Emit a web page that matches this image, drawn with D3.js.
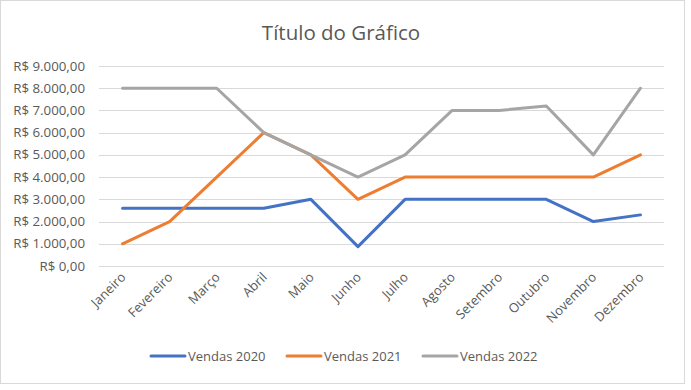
<!DOCTYPE html>
<html>
<head>
<meta charset="utf-8">
<script src="https://cdn.jsdelivr.net/npm/d3@7"></script>
<style>
  html, body { margin: 0; padding: 0; background: #fff; }
  svg text { font-family: "Open Sans", "Noto Sans", sans-serif; fill: #595959; }
</style>
</head>
<body>
<div id="chart"></div>
<script>
// data
const meses = ["Janeiro","Fevereiro","Março","Abril","Maio","Junho","Julho","Agosto","Setembro","Outubro","Novembro","Dezembro"];
const vendas2020 = [2600,2600,2600,2600,3000,870,3000,3000,3000,3000,2000,2300];
const vendas2021 = [1000,2000,4000,6000,5000,3000,4000,4000,4000,4000,4000,5000];
const vendas2022 = [8000,8000,8000,6000,5000,4000,5000,7000,7000,7200,5000,8000];
const yTicks = [0,1000,2000,3000,4000,5000,6000,7000,8000,9000];

const series = [
  { name: "Vendas 2020", values: vendas2020, color: "#4472C4" },
  { name: "Vendas 2021", values: vendas2021, color: "#ED7D31" },
  { name: "Vendas 2022", values: vendas2022, color: "#A5A5A5" }
];

const width = 691, height = 390;
const svg = d3.select("#chart").append("svg").attr("width", width).attr("height", height);

// chart frame
svg.append("rect").attr("x", 0.5).attr("y", 0.5).attr("width", 684).attr("height", 383)
  .attr("fill", "#fff").attr("stroke", "#D9D9D9");

svg.append("text").attr("x", 341).attr("y", 40).attr("text-anchor", "middle")
  .attr("font-size", 20.5).text("Título do Gráfico");

const x = d3.scaleBand().domain(meses).range([99, 664]);
const y = d3.scaleLinear().domain([0, 9000]).range([266, 66]);

const fmt = v => "R$ " + d3.format(",.2f")(v).replace(/,/g, "#").replace(".", ",").replace(/#/g, ".");

// grid
svg.append("g").selectAll("line").data(yTicks).join("line")
  .attr("x1", 99).attr("x2", 664)
  .attr("y1", d => Math.round(y(d)) + 0.5).attr("y2", d => Math.round(y(d)) + 0.5)
  .attr("stroke", "#D9D9D9").attr("stroke-width", 1);

// y labels
svg.append("g").selectAll("text").data(yTicks).join("text")
  .attr("x", 85).attr("y", d => y(d) + 4.5).attr("text-anchor", "end")
  .attr("font-size", 13.3).text(fmt);

// x labels
const cx = d => x(d) + x.bandwidth() / 2;
svg.append("g").selectAll("text").data(meses).join("text")
  .attr("text-anchor", "end").attr("font-size", 13)
  .attr("transform", d => `translate(${cx(d) + 4},${278}) rotate(-45)`)
  .text(d => d);

// lines
const line = d3.line().x((v, i) => cx(meses[i])).y(v => y(v));
svg.append("g").selectAll("path").data(series).join("path")
  .attr("d", d => line(d.values))
  .attr("fill", "none").attr("stroke", d => d.color).attr("stroke-width", 3)
  .attr("stroke-linejoin", "round").attr("stroke-linecap", "round");

// legend
const lg = svg.append("g").selectAll("g").data(series).join("g")
  .attr("transform", (d, i) => `translate(${151 + i * 136},356)`);
lg.append("line").attr("x1", 0).attr("x2", 34).attr("stroke", d => d.color)
  .attr("stroke-width", 3).attr("stroke-linecap", "round");
lg.append("text").attr("x", 37).attr("y", 4.5).attr("font-size", 13).text(d => d.name);
</script>
</body>
</html>
